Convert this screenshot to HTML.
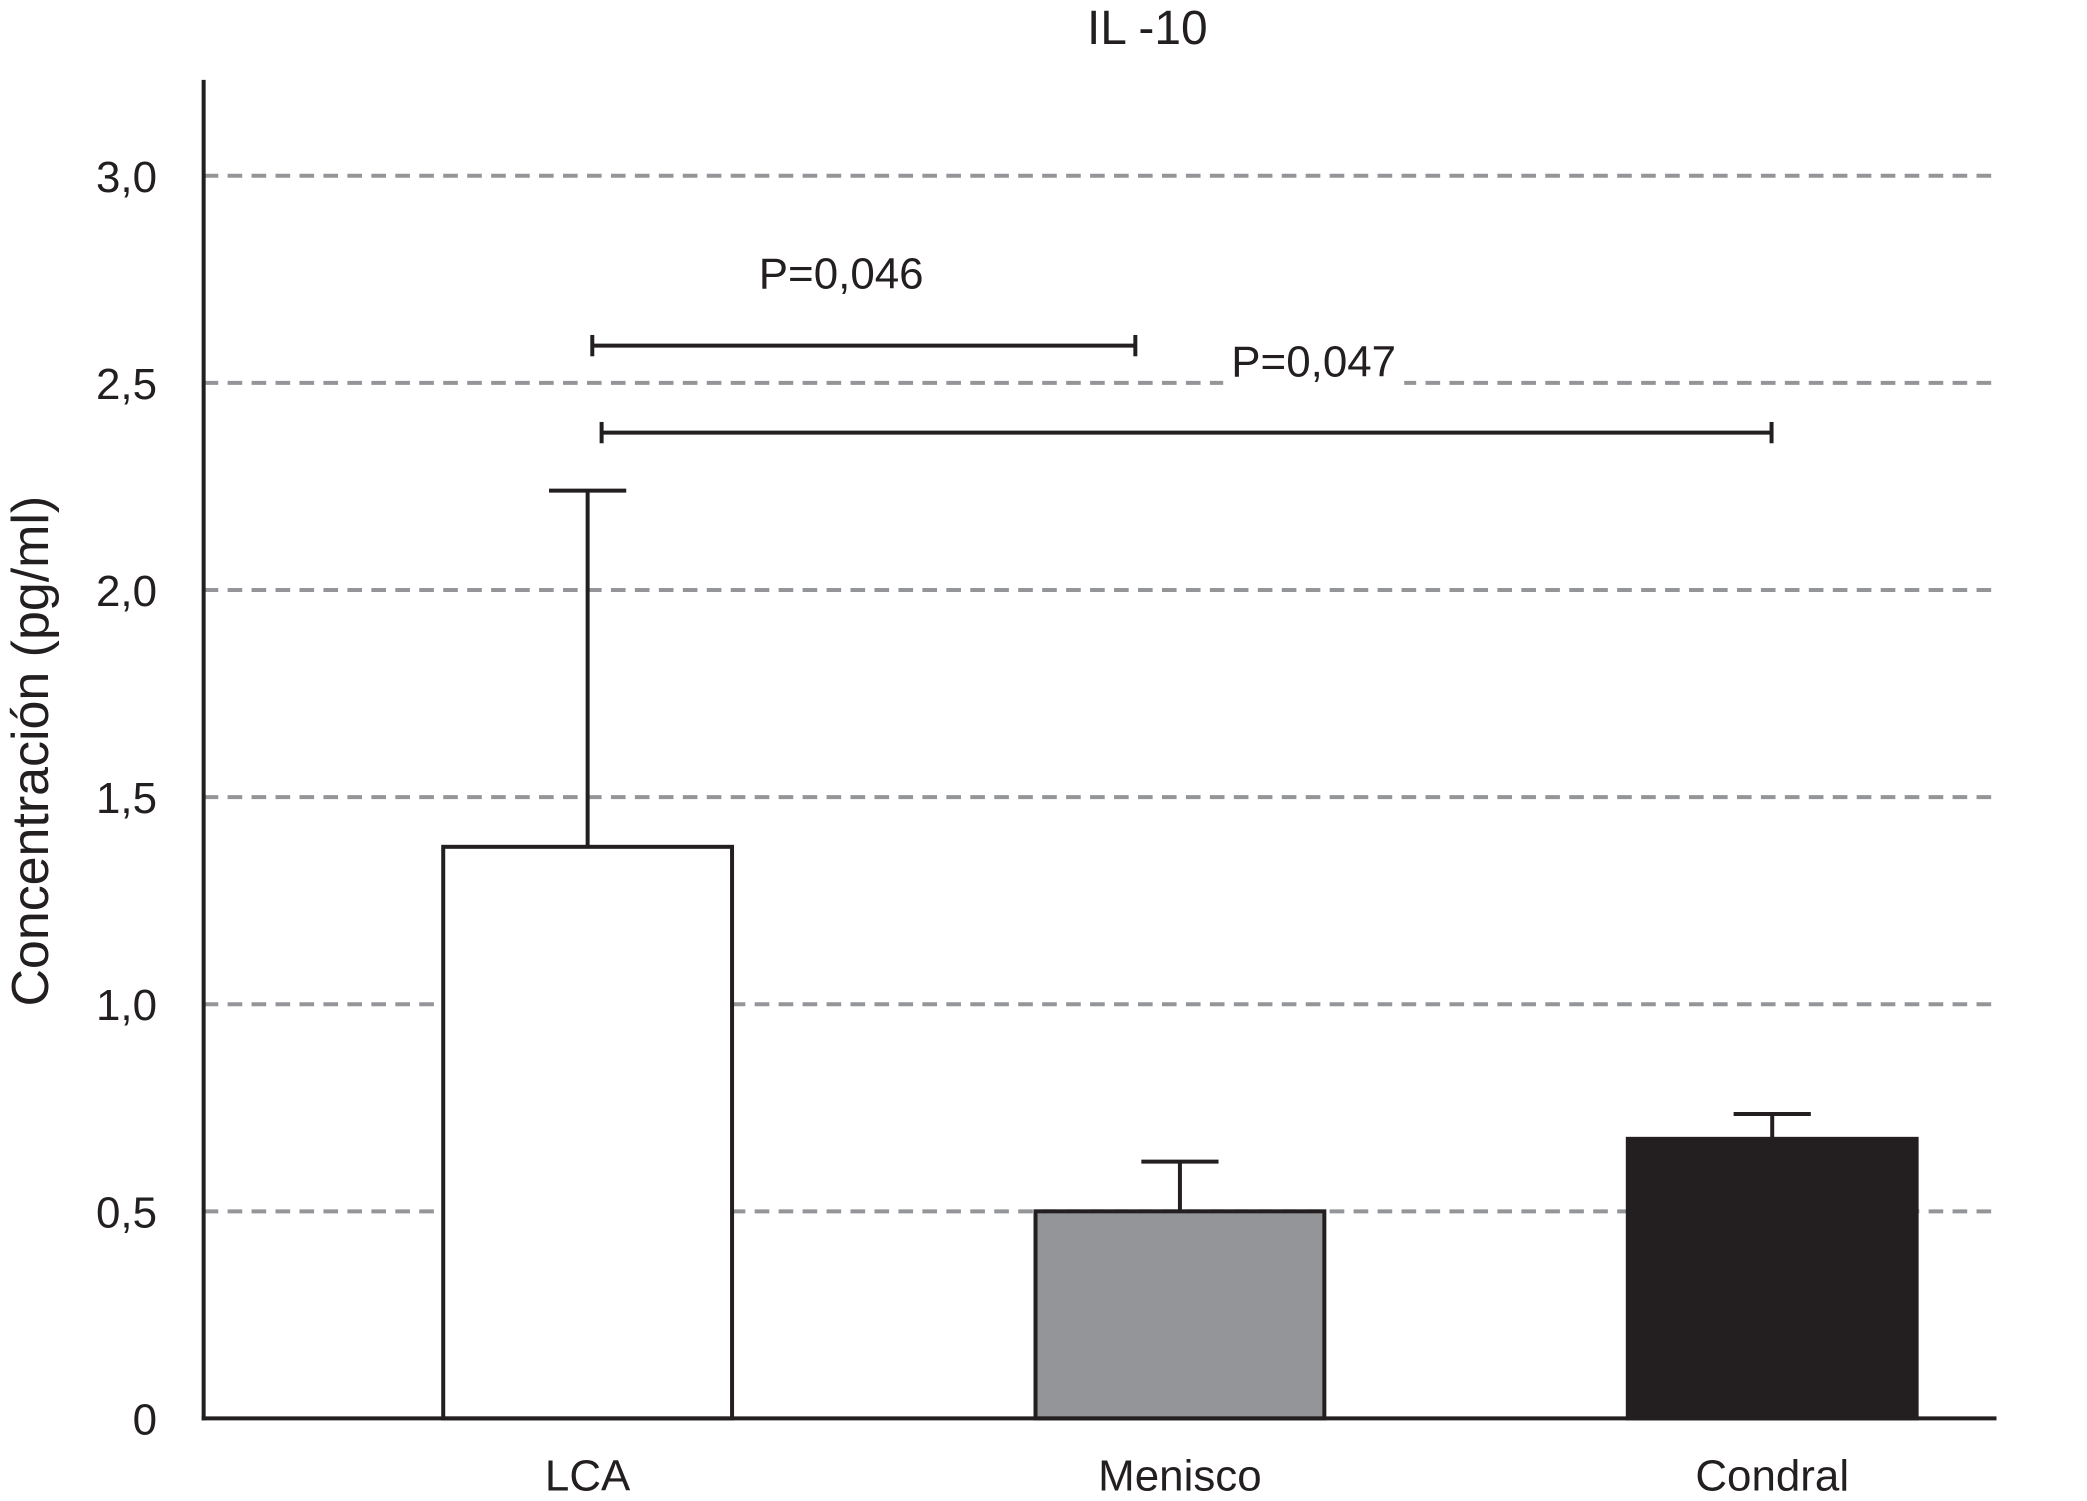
<!DOCTYPE html>
<html><head><meta charset="utf-8"><style>
html,body{margin:0;padding:0;background:#fff;}
svg{display:block;}
text{font-family:"Liberation Sans",sans-serif;fill:#231f20;}
</style></head><body>
<svg id="chart" width="2087" height="1501" viewBox="0 0 1568 1127" preserveAspectRatio="none" xmlns="http://www.w3.org/2000/svg">
<text x="862" y="33" font-size="36" text-anchor="middle">IL -10</text>
<text transform="translate(36,564) rotate(-90)" font-size="39" text-anchor="middle">Concentración (pg/ml)</text>
<g id="grid"></g><g id="bars"></g><g id="axes"></g><g id="sig"></g>
</svg>
<script>
const categories = ["LCA","Menisco","Condral"];
const values = [1.38, 0.5, 0.675];
const errors = [2.24, 0.62, 0.735];
const fills = ["#ffffff","#939598","#231f20"];
const yTicks = [0,0.5,1.0,1.5,2.0,2.5,3.0];
const yTickLabels = ["0","0,5","1,0","1,5","2,0","2,5","3,0"];
const sigFrom = [0,0];
const sigTo = [1,2];
const sigY = [2.59,2.38];
const sigLabels = ["P=0,046","P=0,047"];

const NS="http://www.w3.org/2000/svg";
const x0=153,x1=1500,yBase=1065,yPer=311;
const y=v=>yBase-v*yPer;
const xc=i=>441.5+i*445;
const bw=217;
function mk(t,a,p){const e=document.createElementNS(NS,t);for(const k in a)e.setAttribute(k,a[k]);p.appendChild(e);return e;}
const grid=document.getElementById('grid'),bars=document.getElementById('bars'),axes=document.getElementById('axes'),sig=document.getElementById('sig');
yTicks.forEach((v,i)=>{
  if(v>0){const l=mk('line',{x1:x0,x2:x1,y1:y(v),y2:y(v),stroke:'#939598','stroke-width':3,'stroke-dasharray':'11,7'},grid);
  
  }
  const t=mk('text',{x:118,y:y(v)+12,'font-size':33,'text-anchor':'end'},axes);
  t.textContent=yTickLabels[i];
  
  
});
categories.forEach((c,i)=>{
  const cx=xc(i);
  const e=mk('line',{x1:cx,x2:cx,y1:y(errors[i]),y2:y(values[i]),stroke:'#231f20','stroke-width':3},bars);
  
  
  const cap=mk('line',{x1:cx-29,x2:cx+29,y1:y(errors[i]),y2:y(errors[i]),stroke:'#231f20','stroke-width':3},bars);
  
  
  const r=mk('rect',{x:cx-bw/2,y:y(values[i]),width:bw,height:yBase-y(values[i]),fill:fills[i],stroke:'#231f20','stroke-width':3},bars);
  
  
  const t=mk('text',{x:cx,y:1119,'font-size':33,'text-anchor':'middle'},axes);
  t.textContent=c;
  
  
});
const ya=mk('line',{x1:x0,x2:x0,y1:60,y2:yBase+1.5,stroke:'#231f20','stroke-width':3},axes);


const xa=mk('line',{x1:x0-1.5,x2:x1,y1:yBase,y2:yBase,stroke:'#231f20','stroke-width':3},axes);


const sx=[[445,853],[452,1331]];
sigLabels.forEach((lab,i)=>{
  const a=sx[i][0],b=sx[i][1],yy=y(sigY[i]);
  const g=mk('g',{},sig);
  
  
  mk('line',{x1:a,x2:b,y1:yy,y2:yy,stroke:'#231f20','stroke-width':3},g);
  mk('line',{x1:a,x2:a,y1:yy-8,y2:yy+8,stroke:'#231f20','stroke-width':3},g);
  mk('line',{x1:b,x2:b,y1:yy-8,y2:yy+8,stroke:'#231f20','stroke-width':3},g);
  const tx=i==0?632:987, ty=i==0?yy-43:yy-42;
  if(i==1) mk('rect',{x:tx-68,y:ty-29,width:136,height:38,fill:'#fff'},g);
  const t=mk('text',{x:tx,y:ty,'font-size':33,'text-anchor':'middle'},g);
  t.textContent=lab;
  
  
});
</script>
</body></html>
